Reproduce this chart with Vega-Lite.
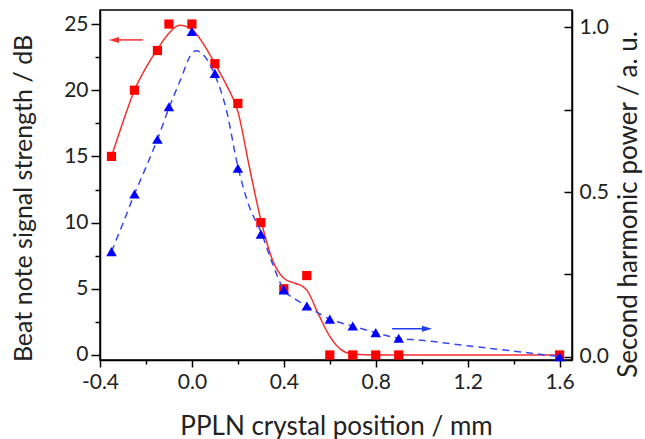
{
  "$schema": "https://vega.github.io/schema/vega-lite/v6.json",
  "width": 472,
  "height": 350,
  "autosize": "none",
  "padding": {"left": 100, "top": 10, "right": 73, "bottom": 79},
  "config": {
    "view": {"stroke": "#000", "strokeWidth": 1.5},
    "axis": {
      "grid": false,
      "domainColor": "#000",
      "domainWidth": 1.5,
      "tickColor": "#000",
      "tickWidth": 1.5,
      "labelFont": "Lato",
      "labelFontSize": 21,
      "labelColor": "#222",
      "titleFont": "Lato",
      "titleFontSize": 25,
      "titleFontWeight": "normal",
      "titleColor": "#222"
    }
  },
  "datasets": {
    "beat": [
      {"pos": -0.35, "db": 15}, {"pos": -0.25, "db": 20}, {"pos": -0.15, "db": 23},
      {"pos": -0.1, "db": 25}, {"pos": 0.0, "db": 25}, {"pos": 0.1, "db": 22},
      {"pos": 0.2, "db": 19}, {"pos": 0.3, "db": 10}, {"pos": 0.4, "db": 5},
      {"pos": 0.5, "db": 6}, {"pos": 0.6, "db": 0}, {"pos": 0.7, "db": 0},
      {"pos": 0.8, "db": 0}, {"pos": 0.9, "db": 0}, {"pos": 1.6, "db": 0}
    ],
    "beatFit": [
      {"pos": -0.35, "db": 15}, {"pos": -0.3, "db": 17.6}, {"pos": -0.25, "db": 20},
      {"pos": -0.2, "db": 21.7}, {"pos": -0.15, "db": 23.1}, {"pos": -0.1, "db": 24.3},
      {"pos": -0.055, "db": 24.9}, {"pos": 0.0, "db": 24.6}, {"pos": 0.05, "db": 23.5},
      {"pos": 0.1, "db": 22.0}, {"pos": 0.15, "db": 20.4}, {"pos": 0.2, "db": 18.4},
      {"pos": 0.25, "db": 14.2}, {"pos": 0.3, "db": 10.2}, {"pos": 0.35, "db": 7.2},
      {"pos": 0.4, "db": 5.8}, {"pos": 0.45, "db": 5.4}, {"pos": 0.48, "db": 5.2},
      {"pos": 0.5, "db": 4.9}, {"pos": 0.55, "db": 3.1}, {"pos": 0.6, "db": 1.4},
      {"pos": 0.65, "db": 0.38}, {"pos": 0.7, "db": 0.07}, {"pos": 0.8, "db": 0},
      {"pos": 1.6, "db": 0}
    ],
    "beatArrow": [{"pos": -0.339, "pos2": -0.214, "db": 23.8}],
    "shg": [
      {"pos": -0.35, "power": 0.319}, {"pos": -0.25, "power": 0.494}, {"pos": -0.15, "power": 0.66},
      {"pos": -0.1, "power": 0.759}, {"pos": 0.0, "power": 0.987}, {"pos": 0.1, "power": 0.86},
      {"pos": 0.2, "power": 0.572}, {"pos": 0.3, "power": 0.372}, {"pos": 0.4, "power": 0.203},
      {"pos": 0.5, "power": 0.154}, {"pos": 0.6, "power": 0.114}, {"pos": 0.7, "power": 0.093},
      {"pos": 0.8, "power": 0.073}, {"pos": 0.9, "power": 0.056}, {"pos": 1.6, "power": 0.0}
    ],
    "shgFit": [
      {"pos": -0.35, "power": 0.319}, {"pos": -0.3, "power": 0.405}, {"pos": -0.25, "power": 0.494},
      {"pos": -0.2, "power": 0.575}, {"pos": -0.15, "power": 0.66}, {"pos": -0.1, "power": 0.755},
      {"pos": -0.05, "power": 0.84}, {"pos": 0.0, "power": 0.921}, {"pos": 0.02, "power": 0.929},
      {"pos": 0.05, "power": 0.916}, {"pos": 0.1, "power": 0.855}, {"pos": 0.15, "power": 0.749},
      {"pos": 0.2, "power": 0.577}, {"pos": 0.25, "power": 0.455}, {"pos": 0.3, "power": 0.38},
      {"pos": 0.35, "power": 0.284}, {"pos": 0.4, "power": 0.203}, {"pos": 0.45, "power": 0.175},
      {"pos": 0.5, "power": 0.154}, {"pos": 0.6, "power": 0.114}, {"pos": 0.7, "power": 0.093},
      {"pos": 0.8, "power": 0.073}, {"pos": 0.9, "power": 0.056}, {"pos": 1.0, "power": 0.05},
      {"pos": 1.2, "power": 0.033}, {"pos": 1.4, "power": 0.017}, {"pos": 1.6, "power": 0.0}
    ],
    "shgArrow": [{"pos": 1.023, "pos2": 0.871, "power": 0.085}]
  },
  "encoding": {
    "x": {
      "field": "pos",
      "type": "quantitative",
      "scale": {"domain": [-0.4, 1.654], "nice": false, "zero": false},
      "axis": {
        "title": "PPLN crystal position / mm",
        "titleFontSize": 26,
        "values": [-0.4, -0.2, 0, 0.2, 0.4, 0.6, 0.8, 1.0, 1.2, 1.4, 1.6],
        "labelExpr": "abs(round(datum.value * 10)) % 4 === 0 ? replace(format(datum.value, '.1f'), '\u2212', '-') : ''",
        "tickSize": {"condition": {"test": "abs(round(datum.value * 10)) % 4 !== 0", "value": 4}, "value": 7},
        "labelPadding": 4,
        "titlePadding": 21,
        "labelFlush": false
      }
    }
  },
  "layer": [
    {
      "encoding": {
        "y": {
          "field": "db",
          "type": "quantitative",
          "scale": {"domain": [-0.38, 26.06], "nice": false, "zero": false},
          "axis": {
            "orient": "left",
            "title": "Beat note signal strength / dB",
            "titleY": 188,
            "values": [0, 2.5, 5, 7.5, 10, 12.5, 15, 17.5, 20, 22.5, 25],
            "labelExpr": "datum.value % 5 === 0 ? format(datum.value, 'd') : ''",
            "tickSize": {"condition": {"test": "datum.value % 5 !== 0", "value": 5}, "value": 9},
            "labelPadding": 3,
            "titlePadding": 27,
            "labelFlush": false
          }
        }
      },
      "layer": [
        {
          "data": {"name": "beatFit"},
          "mark": {"type": "line", "interpolate": "monotone", "color": "#f33030", "strokeWidth": 1.5}
        },
        {
          "data": {"name": "beat"},
          "mark": {"type": "point", "shape": "square", "filled": true, "size": 85, "color": "#ff0000", "opacity": 1}
        },
        {
          "data": {"name": "beatArrow"},
          "mark": {"type": "rule", "color": "#f33030", "strokeWidth": 1.5},
          "encoding": {"x2": {"field": "pos2"}}
        },
        {
          "data": {"name": "beatArrow"},
          "mark": {"type": "point", "shape": "M-1,0L1,-0.6L1,0.6Z", "filled": true, "size": 100, "color": "#f33030", "opacity": 1}
        }
      ]
    },
    {
      "encoding": {
        "y": {
          "field": "power",
          "type": "quantitative",
          "scale": {"domain": [-0.01, 1.0525], "nice": false, "zero": false},
          "axis": {
            "orient": "right",
            "title": "Second harmonic power / a. u.",
            "titleAngle": 270,
            "titleFontSize": 26,
            "titleY": 194,
            "values": [0, 0.25, 0.5, 0.75, 1.0],
            "labelExpr": "(datum.value * 2) % 1 === 0 ? format(datum.value, '.1f') : ''",
            "tickSize": -8,
            "labelPadding": 15,
            "titlePadding": 33,
            "labelFlush": false
          }
        }
      },
      "layer": [
        {
          "data": {"name": "shgFit"},
          "mark": {"type": "line", "interpolate": "monotone", "color": "#3848ee", "strokeWidth": 1.5, "strokeDash": [7, 5]}
        },
        {
          "data": {"name": "shg"},
          "mark": {"type": "point", "shape": "triangle-up", "filled": true, "size": 110, "color": "#0000ff", "opacity": 1}
        },
        {
          "data": {"name": "shgArrow"},
          "mark": {"type": "rule", "color": "#2040f0", "strokeWidth": 1.5},
          "encoding": {"x2": {"field": "pos2"}}
        },
        {
          "data": {"name": "shgArrow"},
          "mark": {"type": "point", "shape": "M1,0L-1,-0.6L-1,0.6Z", "filled": true, "size": 100, "color": "#2040f0", "opacity": 1}
        }
      ]
    }
  ],
  "resolve": {"scale": {"y": "independent"}}
}
